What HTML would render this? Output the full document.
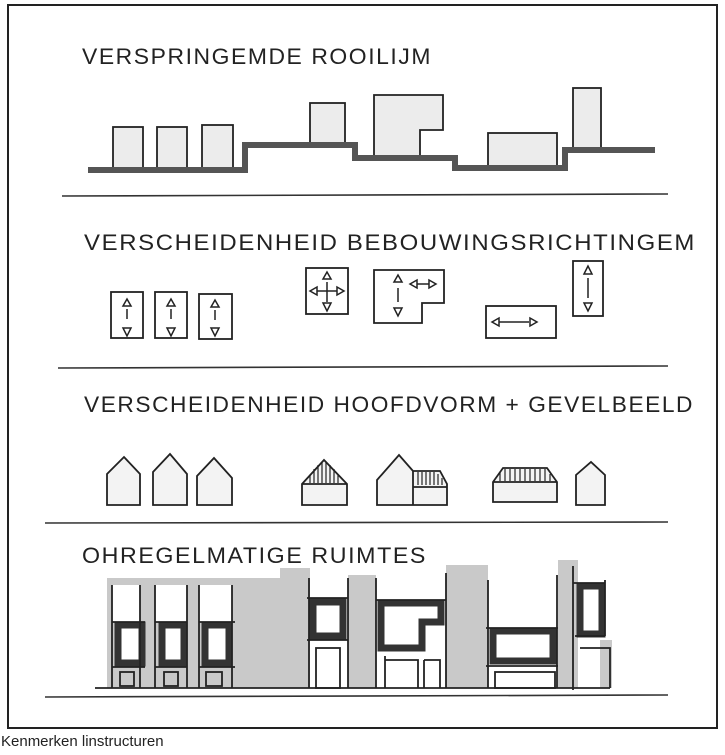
<!DOCTYPE html>
<html><head><meta charset="utf-8"><style>
body{margin:0;background:#fff;}
svg{display:block}
text{font-family:"Liberation Sans",sans-serif;}
</style></head><body>
<svg width="725" height="755" viewBox="0 0 725 755" xmlns="http://www.w3.org/2000/svg">
<rect x="0" y="0" width="725" height="755" fill="#fff"/>
<rect x="8" y="5" width="709" height="723" fill="none" stroke="#222" stroke-width="2"/>
<g stroke="#333" stroke-width="1.6" fill="none">
<line x1="62" y1="196" x2="668" y2="194"/>
<line x1="58" y1="368" x2="668" y2="366"/>
<line x1="45" y1="523" x2="668" y2="522"/>
<line x1="45" y1="697" x2="668" y2="695"/>
</g>
<g font-size="22" fill="#222" letter-spacing="1.5" font-weight="normal">
<text x="82" y="64" textLength="350" lengthAdjust="spacingAndGlyphs">VERSPRINGEMDE ROOILIJM</text>
<text x="84" y="250" textLength="612" lengthAdjust="spacingAndGlyphs">VERSCHEIDENHEID BEBOUWINGSRICHTINGEM</text>
<text x="84" y="412" textLength="610" lengthAdjust="spacingAndGlyphs">VERSCHEIDENHEID HOOFDVORM + GEVELBEELD</text>
<text x="82" y="563" textLength="345" lengthAdjust="spacingAndGlyphs">OHREGELMATIGE RUIMTES</text>
</g>
<text x="1" y="746" font-size="15" fill="#222">Kenmerken linstructuren</text>

<!-- Section 1 -->
<g stroke="#222" stroke-width="1.8" fill="#ececec">
<rect x="113" y="127" width="30" height="42"/>
<rect x="157" y="127" width="30" height="42"/>
<rect x="202" y="125" width="31" height="44"/>
<rect x="310" y="103" width="35" height="40"/>
<path d="M374 95 H443 V130 H420 V157 H374 Z"/>
<rect x="488" y="133" width="69" height="33"/>
<rect x="573" y="88" width="28" height="60"/>
</g>
<path d="M88 170 H245 V145 H355 V158 H455 V168 H565 V150 H655" stroke="#555" stroke-width="6" fill="none"/>

<!-- Section 2 -->
<g stroke="#222" stroke-width="1.8" fill="none">
<rect x="111" y="292" width="32" height="46"/>
<rect x="155" y="292" width="32" height="46"/>
<rect x="199" y="294" width="33" height="45"/>
<rect x="306" y="268" width="42" height="46"/>
<path d="M374 270 H444 V303 H422 V323 H374 Z"/>
<rect x="486" y="306" width="70" height="32"/>
<rect x="573" y="261" width="30" height="55"/>
</g>
<g stroke="#222" stroke-width="1.5" fill="none">
<path d="M127 299 l-4 7 h8 z M127 309 v10 M123 328 h8 l-4 8 z"/>
<path d="M171 299 l-4 7 h8 z M171 309 v10 M167 328 h8 l-4 8 z"/>
<path d="M215 300 l-4 7 h8 z M215 310 v10 M211 328 h8 l-4 8 z"/>
<path d="M327 272 l-4 7 h8 z M327 282 v20 M323 303 h8 l-4 8 z M310 291 l7 -4 v8 z M317 291 h20 M337 287 v8 l7 -4 z"/>
<path d="M398 275 l-4 7 h8 z M398 288 v14 M394 308 h8 l-4 8 z M410 284 l7 -4 v8 z M417 284 h12 M429 280 v8 l7 -4 z"/>
<path d="M492 322 l7 -4 v8 z M499 322 h30 M530 318 v8 l7 -4 z"/>
<path d="M588 266 l-4 8 h8 z M588 278 v20 M584 303 h8 l-4 8 z"/>
</g>

<!-- Section 3 -->
<g stroke="#222" stroke-width="1.8" fill="#f3f3f3">
<path d="M107 505 V474 L124 457 L140 474 V505 Z"/>
<path d="M153 505 V472 L170 454 L187 474 V505 Z"/>
<path d="M197 505 V476 L214 458 L232 478 V505 Z"/>
<path d="M302 505 V484 L324 460 L347 484 V505 Z M302 484 H347"/>
<path d="M377 505 V480 L399 455 L413 471 V505 Z M413 471 H440 L447 484 V505 H413 M413 487 H447"/>
<path d="M493 502 V482 L503 468 H547 L557 482 V502 Z M493 482 H557"/>
<path d="M576 505 V475 L591 462 L605 475 V505 Z"/>
</g>
<g stroke="#222" stroke-width="1.2">
<path d="M310 483 V475 M314 483 V469 M318 483 V465 M322 483 V462 M326 483 V462 M330 483 V465 M334 483 V469 M338 483 V474"/>
<path d="M418 485 V472 M422 485 V472 M426 485 V472 M430 485 V472 M434 485 V472 M438 485 V474 M442 485 V478"/>
<path d="M500 481 V472 M505 481 V469 M510 481 V469 M515 481 V469 M520 481 V469 M525 481 V469 M530 481 V469 M535 481 V469 M540 481 V469 M545 481 V469 M550 481 V474"/>
</g>

<!-- Section 4 -->
<g fill="#c9c9c9">
<rect x="107" y="578" width="198" height="110"/>
<rect x="280" y="568" width="30" height="120"/>
<rect x="348" y="575" width="28" height="113"/>
<rect x="446" y="565" width="42" height="123"/>
<rect x="558" y="560" width="20" height="128"/>
<rect x="600" y="640" width="12" height="48"/>
</g>
<g fill="#fff">
<rect x="112" y="585" width="28" height="37"/>
<rect x="155" y="585" width="32" height="37"/>
<rect x="199" y="585" width="33" height="37"/>
<rect x="310" y="578" width="36" height="20"/>
<rect x="378" y="578" width="66" height="22"/>
<rect x="488" y="578" width="68" height="50"/>
<rect x="578" y="578" width="26" height="5"/>
</g>
<g stroke="#333" stroke-width="7" fill="#fff">
<rect x="118" y="625" width="24" height="38"/>
<rect x="162" y="625" width="22" height="38"/>
<rect x="205" y="625" width="24" height="38"/>
<rect x="313" y="602" width="30" height="34"/>
<path d="M381 603 H441 V622 H422 V648 H381 Z"/>
<rect x="493" y="631" width="60" height="30"/>
<rect x="580" y="586" width="22" height="48"/>
</g>
<g stroke="#222" stroke-width="1.8" fill="none">
<path d="M95 688 H610"/>
<path d="M112 585 V688 M140 585 V688 M155 585 V688 M187 585 V688 M199 585 V688 M232 585 V688"/>
<path d="M112 622 H145 M155 622 H187 M199 622 H235 M112 667 H145 M155 667 H187 M199 667 H235"/>
<rect x="120" y="672" width="14" height="14"/><rect x="164" y="672" width="14" height="14"/><rect x="206" y="672" width="16" height="14"/>
<path d="M309 578 V688 M348 578 V688 M307 598 H348 M307 640 H348"/>
<rect x="316" y="648" width="24" height="40"/>
<path d="M376 578 V688 M446 573 V688 M376 600 H446"/>
<path d="M385 656 V688 M385 660 H418 V688 M424 660 V688 M424 660 H440 V688"/>
<path d="M488 580 V688 M557 575 V688 M486 628 H558 M486 666 H558"/>
<rect x="495" y="672" width="60" height="16"/>
<path d="M573 566 V690 M605 580 V636 M573 583 H605 M575 636 H605 M580 648 H610 V688"/>
</g>
</svg>
</body></html>
